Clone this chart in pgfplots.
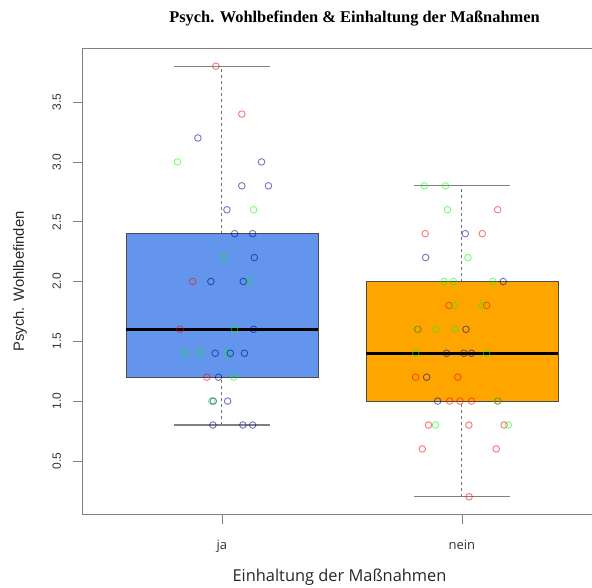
\documentclass[border=0pt]{standalone}
\usepackage{pgfplots}
\pgfplotsset{compat=1.18}
\usepackage{fontspec}
\setmainfont{Liberation Sans}
\newfontfamily\opensans{Open Sans}
\newfontfamily\tnr{Liberation Serif}
\definecolor{boxja}{RGB}{100,149,237}
\definecolor{boxnein}{RGB}{255,165,0}
\definecolor{ptred}{RGB}{255,0,0}
\definecolor{ptgreen}{RGB}{0,255,0}
\definecolor{ptblue}{RGB}{0,0,139}
\definecolor{framegray}{RGB}{128,128,128}
\begin{document}
\begin{tikzpicture}
\begin{scope}[overlay]
\begin{axis}[
  name=main,
  scale only axis, width=518.4pt, height=465pt,
  xmin=0.42, xmax=2.58, ymin=0.056, ymax=3.944,
  xtick={1,2}, xticklabels={ja,nein},
  ytick={0.5,1.0,1.5,2.0,2.5,3.0,3.5},
  yticklabels={0.5,1.0,1.5,2.0,2.5,3.0,3.5},
  tick pos=left, tick align=outside, major tick length=9.5pt,
  every tick/.style={framegray, line width=0.8pt},
  axis line style={framegray, line width=1pt},
  /pgf/number format/assume math mode=true,
  yticklabel shift=12pt,
  yticklabel style={rotate=90, anchor=south, inner sep=0pt, font=\fontsize{12}{14}\selectfont, text=black!80},
  xticklabel style={font=\opensans\fontsize{13}{15}\selectfont, text=black!80, yshift=-13pt},
  xlabel={Einhaltung der Maßnahmen},
  xlabel style={font=\opensans\fontsize{16.4}{19}\selectfont, at={(axis description cs:0.4954,-0.1355)}, anchor=center, text=black!85},
  ylabel={Psych. Wohlbefinden},
  ylabel style={font=\fontsize{14.8}{17}\selectfont, at={(axis description cs:-0.121,0.5)}, anchor=center, text=black!85},
  clip=false,
]
% whiskers (dashed)
\addplot[framegray!90!black, line width=1pt, dash pattern=on 3pt off 3pt] coordinates {(1,0.8) (1,1.2)};
\addplot[framegray!90!black, line width=1pt, dash pattern=on 3pt off 3pt] coordinates {(1,2.4) (1,3.8)};
\addplot[framegray!90!black, line width=1pt, dash pattern=on 3pt off 3pt] coordinates {(2,0.2) (2,1.0)};
\addplot[framegray!90!black, line width=1pt, dash pattern=on 3pt off 3pt] coordinates {(2,2.0) (2,2.8)};
% caps
\addplot[framegray, line width=1.3pt] coordinates {(0.8,0.8) (1.2,0.8)};
\addplot[framegray, line width=1.3pt] coordinates {(0.8,3.8) (1.2,3.8)};
\addplot[framegray, line width=1.3pt] coordinates {(1.8,0.2) (2.2,0.2)};
\addplot[framegray, line width=1.3pt] coordinates {(1.8,2.8) (2.2,2.8)};
% boxes
\addplot[fill=boxja, draw=black!70, line width=0.8pt] coordinates {(0.6,1.2) (1.4,1.2) (1.4,2.4) (0.6,2.4) (0.6,1.2)} -- cycle;
\addplot[fill=boxnein, draw=black!70, line width=0.8pt] coordinates {(1.6,1.0) (2.4,1.0) (2.4,2.0) (1.6,2.0) (1.6,1.0)} -- cycle;
% medians
\addplot[black, line width=3.2pt] coordinates {(0.6,1.6) (1.4,1.6)};
\addplot[black, line width=3.2pt] coordinates {(1.6,1.4) (2.4,1.4)};
% jittered points
\addplot[only marks, mark=o, mark size=3.3pt, ptred, opacity=0.55, mark options={line width=0.9pt}] coordinates {
(0.975,3.8) (1.083,3.4) (0.878,2.0) (0.826,1.6) (0.9375,1.2)
(2.149,2.6) (1.847,2.4) (2.085,2.4) (1.946,1.8) (2.103,1.8) (1.817,1.6)
(1.807,1.2) (1.983,1.2) (1.949,1.0) (1.992,1.0) (2.04,1.0) (2.15,1.0)
(1.861,0.8) (2.029,0.8) (2.176,0.8) (1.835,0.6) (2.143,0.6) (2.03,0.2)};
\addplot[only marks, mark=o, mark size=3.3pt, ptgreen, opacity=0.55, mark options={line width=0.9pt}] coordinates {
(0.815,3.0) (1.132,2.6) (1.008,2.2) (1.11,2.0) (1.053,1.6) (0.847,1.4)
(0.911,1.4) (1.021,1.4) (1.05,1.2) (0.957,1.0)
(1.843,2.8) (1.932,2.8) (1.940,2.6) (2.025,2.2) (1.925,2.0) (1.965,2.0)
(2.129,2.0) (1.968,1.8) (2.086,1.8) (1.8125,1.6) (1.893,1.6) (1.971,1.6)
(1.808,1.4) (2.103,1.4) (2.147,1.0) (1.89,0.8) (2.193,0.8)};
\addplot[only marks, mark=o, mark size=3.3pt, ptblue, opacity=0.55, mark options={line width=0.9pt}] coordinates {
(0.9,3.2) (1.165,3.0) (1.083,2.8) (1.194,2.8) (1.021,2.6) (1.053,2.4)
(1.128,2.4) (1.135,2.2) (0.954,2.0) (1.089,2.0) (1.132,1.6) (0.972,1.4)
(1.035,1.4) (1.094,1.4) (0.986,1.2) (0.964,1.0) (1.024,1.0) (0.9625,0.8)
(1.0875,0.8) (1.128,0.8)
(2.014,2.4) (1.849,2.2) (2.172,2.0) (2.017,1.6) (1.936,1.4) (2.008,1.4)
(2.04,1.4) (1.853,1.2) (1.899,1.0)};
\end{axis}
\end{scope}
\path[use as bounding box] (main.south west) ++(-82.7pt,-73pt) rectangle ++(592pt,587pt);
\path (main.south west) ++(271.8pt,495pt) node[font=\tnr\bfseries\fontsize{16.4}{19}\selectfont] {Psych. Wohlbefinden \& Einhaltung der Maßnahmen};
\end{tikzpicture}
\end{document}
